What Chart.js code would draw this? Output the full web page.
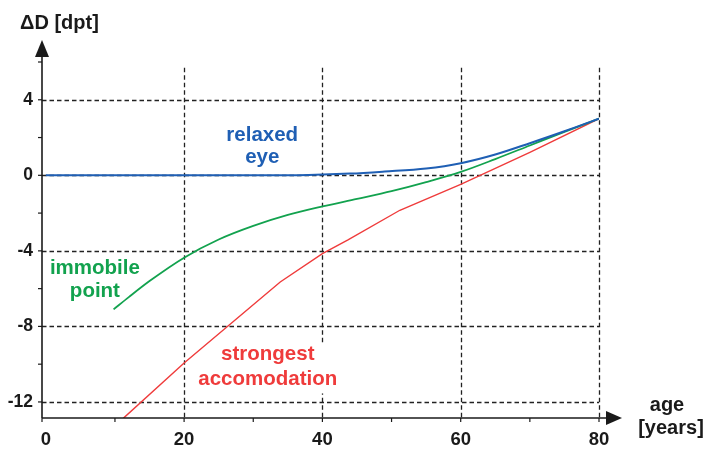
<!DOCTYPE html>
<html><head><meta charset="utf-8">
<script src="https://cdn.jsdelivr.net/npm/chart.js@4/dist/chart.umd.min.js"></script>
<style>html,body{margin:0;padding:0;background:#fff}#wrap{width:706px;height:452px;position:relative}</style>
</head><body><div id="wrap"><canvas id="c"></canvas></div>
<script>
// ---- data ----
const xTicks = [0, 20, 40, 60, 80];
const yTicks = [-12, -8, -4, 0, 4];
const xMinorTicks = [0, 10, 20, 30, 40, 50, 60, 70, 80];
const yMinorTicks = [-12, -10, -8, -6, -4, -2, 0, 2, 4, 6];
const xGrid = [20, 40, 60, 80];
const yGrid = [-12, -8, -4, 0, 4];

const relaxedAge = [0, 10, 20, 30, 38, 44, 49, 55, 60, 65, 70, 75, 80];
const relaxedD   = [0, 0, 0, 0, 0.02, 0.09, 0.2, 0.36, 0.64, 1.1, 1.7, 2.33, 3.0];

const immobileAge = [9.8, 12, 15, 20, 25, 30, 35, 40, 45, 50, 55, 60, 65, 70, 75, 80];
const immobileD   = [-7.1, -6.45, -5.6, -4.36, -3.4, -2.68, -2.1, -1.65, -1.25, -0.84, -0.36, 0.18, 0.86, 1.58, 2.3, 3.0];

const strongestAge = [11.2, 20, 33.9, 40, 43.7, 51.2, 60, 70, 80];
const strongestD   = [-12.87, -9.94, -5.65, -4.15, -3.42, -1.85, -0.48, 1.22, 3.0];

const seriesLabels = ['relaxed eye', 'immobile point', 'strongest accomodation'];
const yTitle = 'ΔD [dpt]';
const xTitle = ['age', '[years]'];

const FONT = '"Liberation Sans", Arial, Helvetica, sans-serif';
const toXY = (xs, ys) => xs.map((x, i) => ({x, y: ys[i]}));

const overlay = {
  id: 'overlay',
  beforeDatasetsDraw(chart) {
    const {ctx, chartArea, scales: {x, y}} = chart;
    ctx.save();
    ctx.strokeStyle = '#222';
    ctx.lineWidth = 1.3;
    ctx.setLineDash([4.5, 3]);
    yGrid.forEach(v => {
      const py = Math.round(y.getPixelForValue(v)) + 0.5;
      ctx.beginPath(); ctx.moveTo(chartArea.left, py); ctx.lineTo(x.getPixelForValue(80), py); ctx.stroke();
    });
    xGrid.forEach(v => {
      const px = Math.round(x.getPixelForValue(v)) + 0.5;
      ctx.beginPath(); ctx.moveTo(px, y.getPixelForValue(5.7)); ctx.lineTo(px, y.getPixelForValue(-12.85)); ctx.stroke();
    });
    ctx.setLineDash([]);
    // white box behind red label
    ctx.fillStyle = '#fff';
    const bx = x.getPixelForValue(25), bw = x.getPixelForValue(41.5) - bx;
    const by = y.getPixelForValue(-8.9), bh = y.getPixelForValue(-11.55) - by;
    ctx.fillRect(bx, by, bw, bh);
    ctx.restore();
  },
  afterDatasetsDraw(chart) {
    const {ctx, chartArea, scales: {x, y}} = chart;
    const x0 = chartArea.left, yB = y.getPixelForValue(-12.85);
    ctx.save();
    ctx.strokeStyle = '#1a1a1a'; ctx.fillStyle = '#1a1a1a';
    ctx.lineWidth = 1.6;
    // y axis
    ctx.beginPath(); ctx.moveTo(x0, yB); ctx.lineTo(x0, 52); ctx.stroke();
    ctx.beginPath(); ctx.moveTo(x0, 40); ctx.lineTo(x0 - 7, 57); ctx.lineTo(x0 + 7, 57); ctx.closePath(); ctx.fill();
    // x axis
    ctx.beginPath(); ctx.moveTo(x0, yB); ctx.lineTo(612, yB); ctx.stroke();
    ctx.beginPath(); ctx.moveTo(622, yB); ctx.lineTo(606, yB - 7); ctx.lineTo(606, yB + 7); ctx.closePath(); ctx.fill();
    ctx.lineWidth = 1.2;
    yMinorTicks.forEach(v => {
      const py = y.getPixelForValue(v);
      ctx.beginPath(); ctx.moveTo(x0 - 4, py); ctx.lineTo(x0, py); ctx.stroke();
    });
    xMinorTicks.forEach(v => {
      const px = v === 0 ? x0 : x.getPixelForValue(v);
      ctx.beginPath(); ctx.moveTo(px, yB); ctx.lineTo(px, yB + 4); ctx.stroke();
    });
    // titles
    ctx.textAlign = 'left'; ctx.textBaseline = 'alphabetic';
    ctx.font = 'bold 20px ' + FONT; ctx.fillStyle = '#1a1a1a';
    ctx.fillText(yTitle, 20, 29);
    ctx.textAlign = 'center';
    ctx.fillText(xTitle[0], 667, 411);
    ctx.fillText(xTitle[1], 671, 434);
    // series labels
    ctx.font = 'bold 20.5px ' + FONT;
    const [rel, imm, str] = seriesLabels.map(s => s.split(' '));
    ctx.fillStyle = '#1f5fb4';
    ctx.fillText(rel[0], x.getPixelForValue(31.3), y.getPixelForValue(1.82));
    ctx.fillText(rel[1], x.getPixelForValue(31.3), y.getPixelForValue(0.64));
    ctx.fillStyle = '#12a24e';
    ctx.fillText(imm[0], x.getPixelForValue(7.1), y.getPixelForValue(-5.2));
    ctx.fillText(imm[1], x.getPixelForValue(7.1), y.getPixelForValue(-6.44));
    ctx.fillStyle = '#ef3b3b';
    ctx.fillText(str[0], x.getPixelForValue(32.1), y.getPixelForValue(-9.8));
    ctx.fillText(str[1], x.getPixelForValue(32.1), y.getPixelForValue(-11.1));
    ctx.restore();
  }
};

new Chart(document.getElementById('c'), {
  type: 'line',
  data: {
    datasets: [
      {label: seriesLabels[0], data: toXY(relaxedAge, relaxedD), borderColor: '#1f5fb4', borderWidth: 2, pointRadius: 0, cubicInterpolationMode: 'monotone', fill: false},
      {label: seriesLabels[1], data: toXY(immobileAge, immobileD), borderColor: '#12a24e', borderWidth: 1.8, pointRadius: 0, cubicInterpolationMode: 'monotone', fill: false},
      {label: seriesLabels[2], data: toXY(strongestAge, strongestD), borderColor: '#ef3b3b', borderWidth: 1.4, pointRadius: 0, tension: 0, fill: false}
    ]
  },
  options: {
    responsive: true, maintainAspectRatio: false, animation: false, devicePixelRatio: 1,
    layout: {padding: {top: 62, right: 107, left: 0, bottom: 0}},
    plugins: {legend: {display: false}, tooltip: {enabled: false}},
    scales: {
      x: {
        type: 'linear', min: -0.55, max: 80,
        afterBuildTicks: s => { s.ticks = xTicks.map(v => ({value: v})); },
        afterFit: s => { s.height = 34; },
        grid: {display: false, drawTicks: false}, border: {display: false},
        ticks: {color: '#1a1a1a', font: {family: FONT, size: 18.5, weight: 'bold'}, padding: 11, maxRotation: 0, autoSkip: false}
      },
      y: {
        type: 'linear', min: -12.85, max: 6,
        afterBuildTicks: s => { s.ticks = yTicks.map(v => ({value: v})); },
        afterFit: s => { s.width = 42; },
        grid: {display: false, drawTicks: false}, border: {display: false},
        ticks: {color: '#1a1a1a', font: {family: FONT, size: 17.5, weight: 'bold'}, padding: 9, autoSkip: false}
      }
    }
  },
  plugins: [overlay]
});
</script></body></html>
